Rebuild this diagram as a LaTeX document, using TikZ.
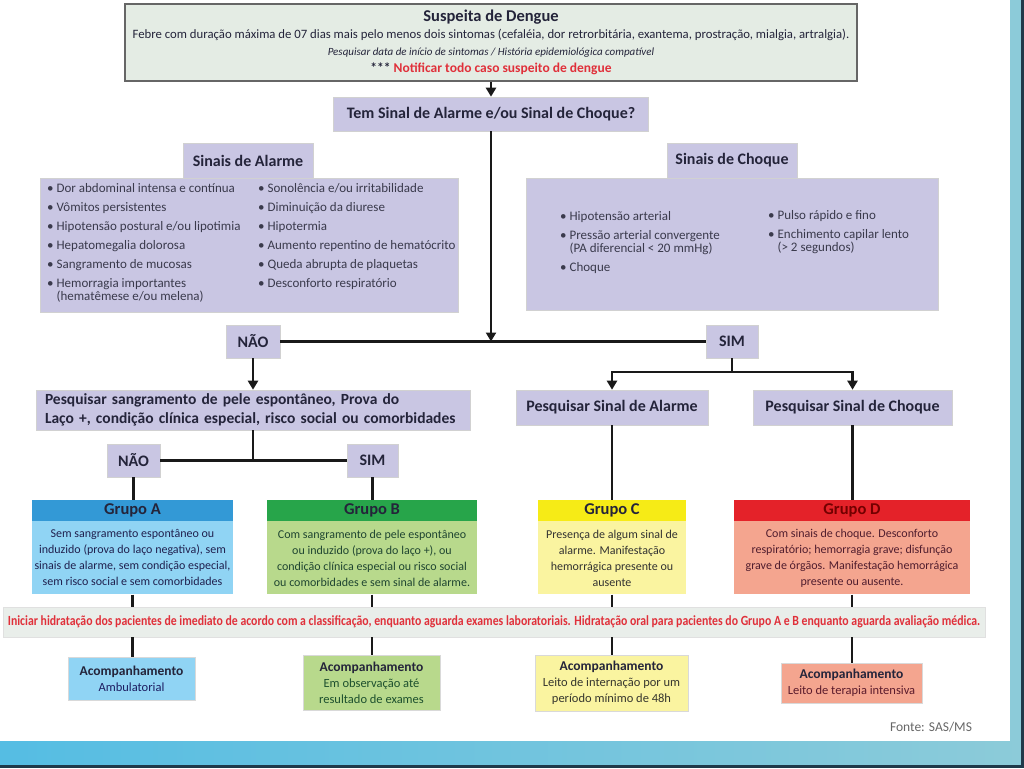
\documentclass[tikz,border=0pt]{standalone}
\usepackage{fontspec}
\setmainfont{Carlito}
\newfontfamily\faixafont[FakeStretch=0.84]{Carlito}
\usepackage{xcolor}
\usetikzlibrary{positioning,calc,arrows.meta}

\definecolor{fundoTopo}{HTML}{E4ECE4}
\definecolor{lilas}{HTML}{C9C6E3}
\definecolor{textoEsc}{HTML}{24243A}
\definecolor{textoItem}{HTML}{3A3A4C}
\definecolor{vermelho}{HTML}{E0303A}
\definecolor{azulCab}{HTML}{3399D6}
\definecolor{azulCorpo}{HTML}{90D4F4}
\definecolor{verdeCab}{HTML}{27A54A}
\definecolor{verdeCorpo}{HTML}{B8D98C}
\definecolor{amareloCab}{HTML}{F6EB16}
\definecolor{amareloCorpo}{HTML}{FAF4A0}
\definecolor{vermCab}{HTML}{E42229}
\definecolor{vermCorpo}{HTML}{F4A58F}
\definecolor{faixaFundo}{HTML}{E9EEEA}
\definecolor{molduraClara}{HTML}{8CCBD9}
\definecolor{molduraAzul}{HTML}{55BDE3}
\definecolor{molduraEsc}{HTML}{1F3A4A}

\begin{document}
\begin{tikzpicture}[x=1pt,y=-1pt,
		caixa/.style={draw=black!18, line width=0.6pt, fill=lilas, inner sep=0pt, text=textoEsc,
			font=\bfseries\fontsize{16}{18}\selectfont},
		item/.style={anchor=north west, inner sep=0pt, align=left, text=textoItem,
			font=\fontsize{13}{13}\selectfont},
		cabeca/.style={inner sep=0pt, minimum height=21, text=textoEsc, font=\bfseries\fontsize{16.5}{17}\selectfont},
		corpo/.style={inner sep=0pt, minimum height=73, align=center, font=\fontsize{12}{16}\selectfont},
		acomp/.style={inner sep=0pt, align=center, draw=black!15, line width=0.6pt, font=\fontsize{12.5}{16}\selectfont},
		linha/.style={line width=2.6pt, black!90},
		seta/.style={linha, -{Triangle[length=9pt,width=10pt]}}]
	\useasboundingbox (0,0) rectangle (1024,768);
	
	% Moldura
	\fill[molduraClara] (1010,0) rectangle (1021,741);
	\shade[left color=molduraAzul, right color=molduraClara] (0,741) rectangle (1021,765);
	\fill[molduraEsc] (1021,0) rectangle (1024,768);
	\fill[molduraEsc] (0,765) rectangle (1024,768);
	
	% Suspeita
	\node[draw=black!60, line width=1.6pt, fill=fundoTopo, minimum width=732, minimum height=77,
		inner sep=0pt, align=center, text=textoEsc, font=\fontsize{12.75}{17}\selectfont] (suspeita) at (491,42.5)
		{{\bfseries\fontsize{16.5}{18}\selectfont Suspeita de Dengue}\\
		Febre com duração máxima de 07 dias mais pelo menos dois sintomas (cefaléia, dor retrorbitária, exantema, prostração, mialgia, artralgia).\\
		{\itshape\fontsize{11}{17}\selectfont Pesquisar data de início de sintomas / História epidemiológica compatível}\\
		{\bfseries\fontsize{13.5}{17}\selectfont *** \textcolor{vermelho}{Notificar todo caso suspeito de dengue}}};
	\node[caixa, minimum width=315, minimum height=34] (pergunta) at (491,114) {Tem Sinal de Alarme e/ou Sinal de Choque?};
	
	% Sinais de Alarme
	\node[caixa, minimum width=418, minimum height=134] (alarme) at (249,245) {};
	\node[caixa, minimum width=130, minimum height=35] (alarmeTit) at (248,160.5) {Sinais de Alarme};
	\foreach \txt [count=\i] in {Dor abdominal intensa e contínua, Vômitos persistentes,
		Hipotensão postural e/ou lipotimia, Hepatomegalia dolorosa, Sangramento de mucosas,
		{Hemorragia importantes\\\phantom{\textbullet~}(hematêmese e/ou melena)}} {
		\node[item] (alarmeE\i) at (47,{164+19*\i}) {\textbullet~\txt};
	}
	\foreach \txt [count=\i] in {Sonolência e/ou irritabilidade, Diminuição da diurese, Hipotermia,
		Aumento repentino de hematócrito, Queda abrupta de plaquetas, Desconforto respiratório} {
		\node[item] (alarmeD\i) at (258,{164+19*\i}) {\textbullet~\txt};
	}
	
	% Sinais de Choque
	\node[caixa, minimum width=412, minimum height=132] (choque) at (732,244) {};
	\node[caixa, minimum width=130, minimum height=35] (choqueTit) at (732,160.5) {Sinais de Choque};
	\node[item] (choqueE1) at (560,211) {\textbullet~Hipotensão arterial};
	\node[item] (choqueE2) at (560,230) {\textbullet~Pressão arterial convergente\\\phantom{\textbullet~}(PA diferencial < 20 mmHg)};
	\node[item] (choqueE3) at (560,262) {\textbullet~Choque};
	\node[item] (choqueD1) at (768,210) {\textbullet~Pulso rápido e fino};
	\node[item] (choqueD2) at (768,229) {\textbullet~Enchimento capilar lento\\\phantom{\textbullet~}(> 2 segundos)};
	
	% Primeira decisao
	\node[caixa, minimum width=54, minimum height=33] (nao1) at (253,341.5) {NÃO};
	\node[caixa, minimum width=52, minimum height=33] (sim1) at (732,341.5) {SIM};
	\draw[linha] (nao1.east) -- (sim1.west);
	\draw[seta] (suspeita.south) -- (pergunta.north);
	\draw[seta] (pergunta.south) -- (pergunta.south |- nao1.east);
	
	% Ramo NAO
	\node[caixa, minimum width=434, minimum height=40, text width=416, inner xsep=9pt, align=left,
		font=\bfseries\fontsize{15.5}{19}\selectfont] (pesqPele) at (253,410)
		{Pesquisar sangramento de pele espontâneo, Prova do\\Laço +, condição clínica especial, risco social ou comorbidades};
	\draw[seta] (nao1.south) -- (pesqPele.north);
	\node[caixa, minimum width=53, minimum height=33] (nao2) at (133.5,460.5) {NÃO};
	\node[caixa, minimum width=51, minimum height=33] (sim2) at (372.5,460.5) {SIM};
	\draw[linha] (nao2.east) -- (sim2.west);
	\draw[linha] (pesqPele.south) -- (pesqPele.south |- nao2.east);
	
	% Ramo SIM
	\node[caixa, minimum width=192, minimum height=35] (pesqAlarme) at (612,407.5) {Pesquisar Sinal de Alarme};
	\node[caixa, minimum width=199, minimum height=35] (pesqChoque) at (852.5,407.5) {Pesquisar Sinal de Choque};
	\coordinate (simGarfo) at (732,372);
	\draw[linha] (sim1.south) -- (simGarfo);
	\draw[seta] (simGarfo) -| (pesqAlarme.north);
	\draw[seta] (simGarfo) -| (pesqChoque.north);
	
	% Grupos
	\node[cabeca, fill=azulCab, minimum width=201] (grupoA) at (132.5,510.5) {Grupo A};
	\node[corpo, fill=azulCorpo, minimum width=201, text=textoEsc!90!blue, below=0pt of grupoA] (corpoA)
		{Sem sangramento espontâneo ou\\induzido (prova do laço negativa), sem\\sinais de alarme, sem condição especial,\\sem risco social e sem comorbidades};
	\node[cabeca, fill=verdeCab, minimum width=210] (grupoB) at (372,510.5) {Grupo B};
	\node[corpo, fill=verdeCorpo, minimum width=210, text=textoEsc!85!green, below=0pt of grupoB] (corpoB)
		{Com sangramento de pele espontâneo\\ou induzido (prova do laço +), ou\\condição clínica especial ou risco social\\ou comorbidades e sem sinal de alarme.};
	\node[cabeca, fill=amareloCab, minimum width=148] (grupoC) at (612,510.5) {Grupo C};
	\node[corpo, fill=amareloCorpo, minimum width=148, text=textoEsc!85!olive, below=0pt of grupoC] (corpoC)
		{Presença de algum sinal de\\alarme. Manifestação\\hemorrágica presente ou\\ausente};
	\node[cabeca, fill=vermCab, minimum width=236, text=red!45!black] (grupoD) at (852,510.5) {Grupo D};
	\node[corpo, fill=vermCorpo, minimum width=236, text=textoEsc!80!red, below=0pt of grupoD] (corpoD)
		{Com sinais de choque. Desconforto\\respiratório; hemorragia grave; disfunção\\grave de órgãos. Manifestação hemorrágica\\presente ou ausente.};
	\draw[linha] (nao2.south) -- (nao2.south |- grupoA.north);
	\draw[linha] (sim2.south) -- (sim2.south |- grupoB.north);
	\draw[linha] (pesqAlarme.south) -- (pesqAlarme.south |- grupoC.north);
	\draw[linha] (pesqChoque.south) -- (pesqChoque.south |- grupoD.north);
	
	% Faixa de hidratacao
	\node[draw=black!12, line width=0.6pt, fill=faixaFundo, minimum width=982, minimum height=30, inner sep=0pt,
		text=vermelho, font=\faixafont\bfseries\fontsize{14}{16}\selectfont] (faixa) at (494,622)
		{Iniciar hidratação dos pacientes de imediato de acordo com a classificação, enquanto aguarda exames laboratoriais. Hidratação oral para pacientes do Grupo A e B enquanto aguarda avaliação médica.};
	
	% Acompanhamento
	\node[acomp, fill=azulCorpo, minimum width=127, minimum height=43, text=textoEsc!80!blue] (acompA) at (131.5,678.5)
		{{\bfseries\fontsize{13.5}{16}\selectfont\textcolor{textoEsc}{Acompanhamento}}\\Ambulatorial};
	\node[acomp, fill=verdeCorpo, minimum width=137, minimum height=55, text=textoEsc!80!green] (acompB) at (371.5,682.5)
		{{\bfseries\fontsize{13.5}{16}\selectfont\textcolor{textoEsc}{Acompanhamento}}\\Em observação até\\resultado de exames};
	\node[acomp, fill=amareloCorpo, minimum width=153, minimum height=56, text=textoEsc!80!olive] (acompC) at (611.5,683)
		{{\bfseries\fontsize{13.5}{16}\selectfont\textcolor{textoEsc}{Acompanhamento}}\\Leito de internação por um\\período mínimo de 48h};
	\node[acomp, fill=vermCorpo, minimum width=141, minimum height=40, text=textoEsc!75!red] (acompD) at (851.5,683)
		{{\bfseries\fontsize{13.5}{16}\selectfont\textcolor{textoEsc}{Acompanhamento}}\\Leito de terapia intensiva};
	\foreach \g in {A,B,C,D} {
		\draw[linha] (corpo\g.south) -- (corpo\g.south |- faixa.north);
		\draw[linha] (corpo\g.south |- faixa.south) -- (corpo\g.south |- acomp\g.north);
	}
	
	\node[text=black!60, font=\fontsize{13.5}{15}\selectfont] (fonte) at (931,727) {Fonte: SAS/MS};
\end{tikzpicture}
\end{document}
